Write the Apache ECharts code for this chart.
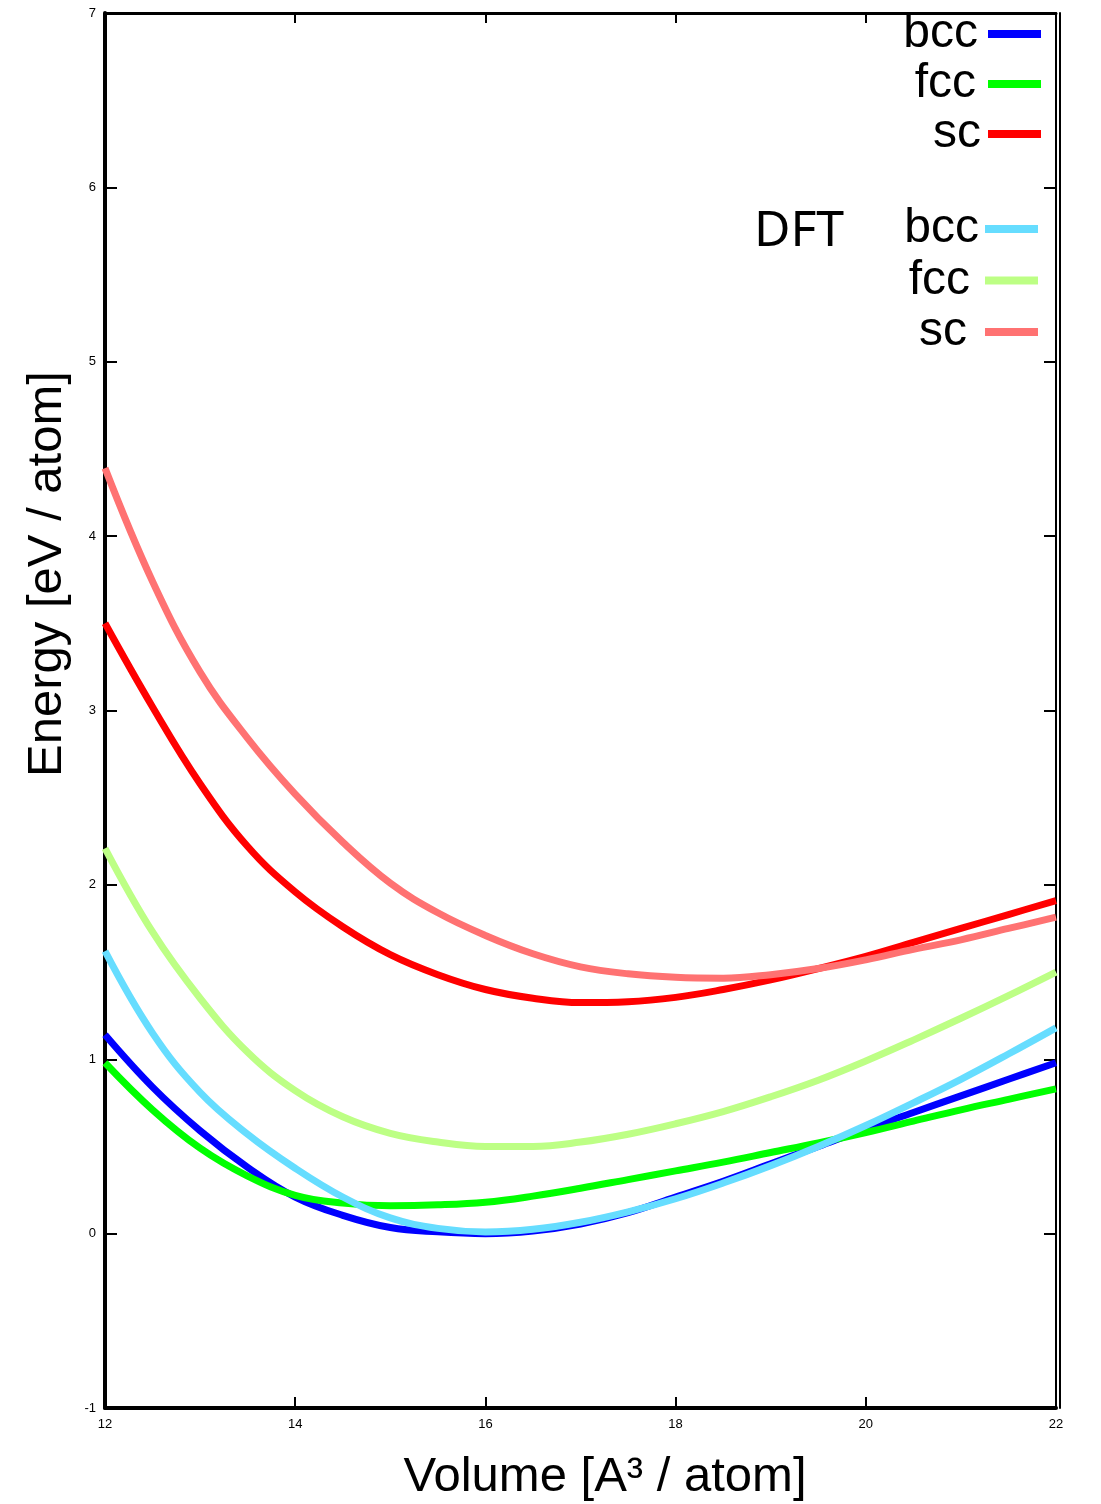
<!DOCTYPE html>
<html>
<head>
<meta charset="utf-8">
<script src="https://cdn.jsdelivr.net/npm/echarts@6/dist/echarts.min.js"></script>
<style>
html,body{margin:0;padding:0;background:#fff;}
#chart{width:1101px;height:1504px;}
</style>
</head>
<body>
<div id="chart"></div>
<script>
// Volume grid [A^3 / atom]
var volumes = [12,12.5,13,13.5,14,14.5,15,15.5,16,16.5,17,17.5,18,18.5,19,19.5,20,20.5,21,21.5,22];
// Model energies [eV / atom]
var bcc = [1.14,0.84,0.59,0.38,0.21,0.105,0.035,0.01,0.00,0.015,0.055,0.12,0.21,0.30,0.40,0.50,0.60,0.695,0.79,0.885,0.98];
var fcc = [0.98,0.71,0.49,0.33,0.22,0.175,0.16,0.165,0.18,0.215,0.26,0.31,0.36,0.41,0.465,0.52,0.58,0.645,0.71,0.77,0.83];
var sc  = [3.50,3.02,2.58,2.22,1.96,1.76,1.60,1.485,1.40,1.35,1.325,1.33,1.355,1.40,1.455,1.52,1.59,1.67,1.75,1.83,1.91];
// DFT energies [eV / atom]
var bccDFT = [1.62,1.15,0.81,0.57,0.375,0.21,0.09,0.03,0.01,0.025,0.065,0.125,0.20,0.29,0.39,0.50,0.62,0.75,0.885,1.03,1.18];
var fccDFT = [2.21,1.73,1.35,1.04,0.82,0.67,0.575,0.525,0.50,0.50,0.525,0.57,0.63,0.70,0.785,0.88,0.99,1.11,1.235,1.365,1.50];
var scDFT  = [4.39,3.74,3.22,2.84,2.52,2.245,2.01,1.84,1.71,1.605,1.53,1.49,1.47,1.465,1.485,1.52,1.57,1.63,1.685,1.75,1.815];
// Tick settings
var xMin = 12, xMax = 22, xStep = 2;
var yMin = -1, yMax = 7, yStep = 1;

function pairs(ys){ return volumes.map(function(v,i){ return [v, ys[i]]; }); }

var FONT = '"Liberation Sans", Arial, Helvetica, sans-serif';
var chart = echarts.init(document.getElementById('chart'), null, {renderer:'canvas'});

function mkSeries(name, ys, color){
  return {
    name: name, type:'line', data: pairs(ys), smooth: 0.4,
    showSymbol:false, symbol:'none',
    lineStyle:{color:color, width:7},
    itemStyle:{color:color},
    xAxisIndex:0, yAxisIndex:0
  };
}

var axisLineBlack = function(w){ return {show:true, onZero:false, lineStyle:{color:'#000', width:w}}; };
var tickIn = function(len){ return {show:true, inside:true, length:len, lineStyle:{color:'#000', width:2}}; };

var option = {
  backgroundColor:'#fff',
  animation:false,
  grid:{left:105, right:45, top:13, bottom:96, containLabel:false},
  xAxis:[
    {type:'value', position:'bottom', min:xMin, max:xMax, interval:xStep,
     axisLine:axisLineBlack(4), axisTick:tickIn(11), splitLine:{show:false},
     axisLabel:{fontSize:13, color:'#000', margin:10, fontFamily:FONT}},
    {type:'value', position:'top', min:xMin, max:xMax, interval:xStep,
     axisLine:axisLineBlack(3), axisTick:tickIn(10), splitLine:{show:false},
     axisLabel:{show:false}}
  ],
  yAxis:[
    {type:'value', position:'left', min:yMin, max:yMax, interval:yStep,
     axisLine:axisLineBlack(4), axisTick:tickIn(12), splitLine:{show:false},
     axisLabel:{fontSize:13, color:'#000', margin:9, fontFamily:FONT}},
    {type:'value', position:'right', min:yMin, max:yMax, interval:yStep,
     axisLine:axisLineBlack(2), axisTick:tickIn(12), splitLine:{show:false},
     axisLabel:{show:false}},
    {type:'value', position:'right', offset:4, min:yMin, max:yMax, interval:yStep,
     axisLine:axisLineBlack(2), axisTick:{show:false}, splitLine:{show:false},
     axisLabel:{show:false}}
  ],
  legend:[
    {data:[
       {name:'bcc', textStyle:{padding:[0,5,0,0]}},
       {name:'fcc', textStyle:{padding:[0,7,0,0]}},
       {name:'sc', textStyle:{padding:[0,2,0,0]}}],
     orient:'vertical', align:'right', right:60, top:10, padding:0,
     icon:'rect', itemWidth:53, itemHeight:8, itemGap:2,
     textStyle:{fontSize:48, color:'#000', fontFamily:FONT, lineHeight:48},
     selectedMode:false},
    {data:[
       {name:'DFT bcc', textStyle:{padding:[0,1,0,0]}},
       {name:'DFT fcc', textStyle:{padding:[0,10,0,0]}},
       {name:'DFT sc', textStyle:{padding:[0,13,0,0]}}],
     orient:'vertical', align:'right', right:63, top:205, padding:0,
     icon:'rect', itemWidth:53, itemHeight:8, itemGap:3.5,
     formatter:function(n){ return n.replace('DFT ',''); },
     textStyle:{fontSize:48, color:'#000', fontFamily:FONT, lineHeight:48},
     selectedMode:false}
  ],
  graphic:[
    {type:'text', x:47, y:574, rotation:Math.PI/2,
     style:{text:'Energy [eV / atom]', font:'49px ' + FONT, fill:'#000', align:'center', verticalAlign:'middle'}},
    {type:'text', x:605, y:1477,
     style:{text:'Volume [A\u00B3 / atom]', font:'49px ' + FONT, fill:'#000', align:'center', verticalAlign:'middle'}},
    {type:'text', x:799, y:232,
     style:{text:'DFT', font:'50px "Noto Sans", ' + FONT, fill:'#000', align:'center', verticalAlign:'middle'}}
  ],
  series:[
    mkSeries('bcc', bcc, '#0000ff'),
    mkSeries('fcc', fcc, '#00ff00'),
    mkSeries('sc', sc, '#ff0000'),
    mkSeries('DFT bcc', bccDFT, '#66ddff'),
    mkSeries('DFT fcc', fccDFT, '#bdff85'),
    mkSeries('DFT sc', scDFT, '#ff7272')
  ]
};
chart.setOption(option);
</script>
</body>
</html>
